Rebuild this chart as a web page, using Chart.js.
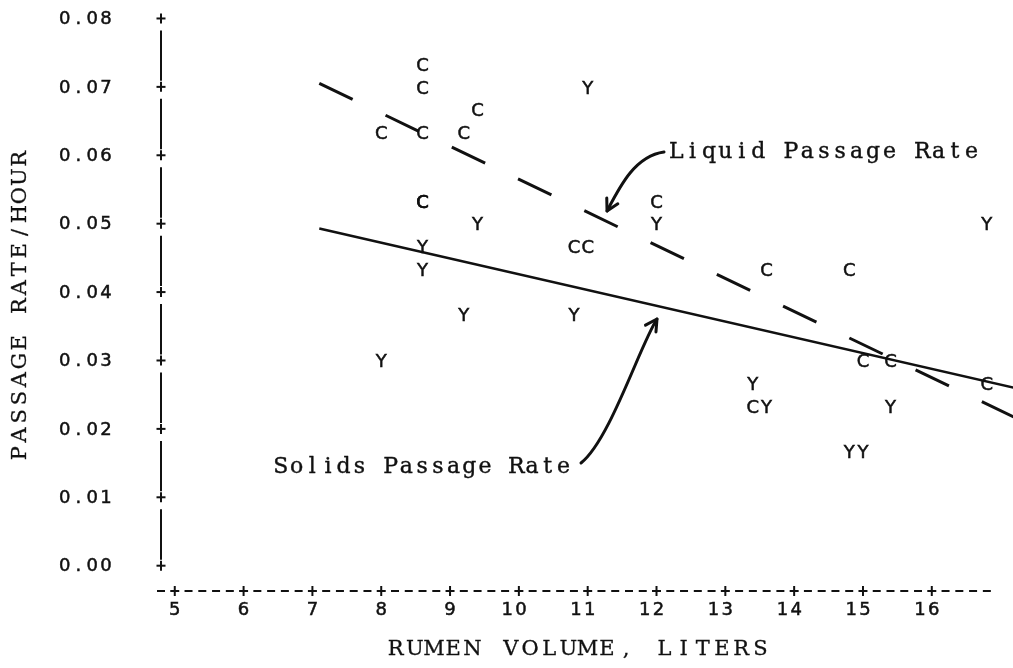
<!DOCTYPE html>
<html>
<head>
<meta charset="utf-8">
<script src="https://cdn.jsdelivr.net/npm/chart.js@4.4.1/dist/chart.umd.min.js"></script>
<style>
  html, body { margin: 0; padding: 0; background: #fff; }
  canvas { display: block; }
</style>
</head>
<body>
<canvas id="chart" width="1013" height="668"></canvas>
<script>
// Group C observations: rumen volume (liters) and passage rate (per hour)
const volumeC = [8.6, 8.6, 9.4, 8.0, 8.6, 9.2, 8.6, 8.6, 12.0, 10.8, 11.0, 13.6, 14.8, 15.0, 15.4, 16.8, 13.4];
const rateC   = [0.0733, 0.0700, 0.0667, 0.0633, 0.0633, 0.0633, 0.0533, 0.0533, 0.0533, 0.0467, 0.0467, 0.0433, 0.0433, 0.0300, 0.0300, 0.0267, 0.0233];

// Group Y observations
const volumeY = [11.0, 12.0, 9.4, 8.6, 8.6, 16.8, 9.2, 10.8, 8.0, 13.4, 13.6, 15.4, 14.8, 15.0];
const rateY   = [0.0700, 0.0500, 0.0500, 0.0467, 0.0433, 0.0500, 0.0367, 0.0367, 0.0300, 0.0267, 0.0233, 0.0233, 0.0167, 0.0167];

// Fitted regression lines (end points)
const liquidLineX = [7.1, 17.2];
const liquidLineY = [0.0705, 0.0217];
const solidsLineX = [7.1, 17.2];
const solidsLineY = [0.0493, 0.0260];

// Axis ticks
const xTickValues = [5, 6, 7, 8, 9, 10, 11, 12, 13, 14, 15, 16];
const xTickLabels = ['5', '6', '7', '8', '9', '10', '11', '12', '13', '14', '15', '16'];
const yTickValues = [0, 0.01, 0.02, 0.03, 0.04, 0.05, 0.06, 0.07, 0.08];
const yTickLabels = ['0.00', '0.01', '0.02', '0.03', '0.04', '0.05', '0.06', '0.07', '0.08'];

const xTitle = 'RUMEN VOLUME, LITERS';
const yTitle = 'PASSAGE RATE/HOUR';

// Callout labels with curved arrows, in data coordinates
const callouts = [
  { text: 'Liquid Passage Rate', x: 12.167, y: 0.0596, cell: 16.4,
    arrow: [[12.109, 0.06048], [11.688, 0.05989], [11.470, 0.05551], [11.281, 0.05185]] },
  { text: 'Solids Passage Rate', x: 6.427, y: 0.01355, cell: 15.7,
    arrow: [[10.903, 0.01501], [11.324, 0.01837], [11.760, 0.03226], [12.007, 0.03606]] }
];

const INK = '#111';
const PRINT_FONT = '18px "DejaVu Sans", "Liberation Sans", sans-serif';
const TITLE_FONT = '21px "DejaVu Serif", "Liberation Serif", serif';
const CALLOUT_FONT = '22px "DejaVu Serif", "Liberation Serif", serif';

function toPoints(xs, ys) { return xs.map((x, i) => ({ x: x, y: ys[i] })); }

// Filled glyph with a thin outline, for the heavier typed/printed look
function inkText(ctx, ch, x, y, weight) {
  ctx.fillText(ch, x, y);
  if (weight > 0) { ctx.lineWidth = weight; ctx.strokeText(ch, x, y); }
}

// Draw text with a fixed character cell, like a typewriter / line printer
function drawCells(ctx, text, firstCenterX, y, cell, weight) {
  ctx.textAlign = 'center';
  for (let i = 0; i < text.length; i++) {
    const ch = text[i];
    if (ch !== ' ') inkText(ctx, ch, firstCenterX + i * cell, y, weight || 0);
  }
}

function line(ctx, x1, y1, x2, y2) {
  ctx.beginPath(); ctx.moveTo(x1, y1); ctx.lineTo(x2, y2); ctx.stroke();
}

function plus(ctx, x, y) {
  line(ctx, x - 4.5, y, x + 4.5, y);
  line(ctx, x, y - 5, x, y + 5);
}

// Plots each observation as its group letter
const letterPlugin = {
  id: 'letterMarkers',
  afterDatasetsDraw(chart) {
    const ctx = chart.ctx;
    ctx.save();
    ctx.fillStyle = INK;
    ctx.strokeStyle = INK;
    ctx.font = PRINT_FONT;
    ctx.textAlign = 'center';
    ctx.textBaseline = 'middle';
    chart.data.datasets.forEach((ds, i) => {
      if (!ds.glyph) return;
      chart.getDatasetMeta(i).data.forEach(pt => {
        inkText(ctx, ds.glyph, pt.x, pt.y + 2, 0.5);
      });
    });
    ctx.restore();
  }
};

// Printer-style axes: '+' tick marks, dashed horizontal axis, ruled vertical axis
const printerAxes = {
  id: 'printerAxes',
  afterDraw(chart) {
    const ctx = chart.ctx;
    const xs = chart.scales.x, ys = chart.scales.y;
    const area = chart.chartArea;
    const cell = xs.getPixelForValue(5.2) - xs.getPixelForValue(5.0);
    const axisX = area.left;
    const axisY = area.bottom;
    ctx.save();
    ctx.strokeStyle = INK;
    ctx.fillStyle = INK;
    ctx.lineWidth = 2;
    ctx.lineCap = 'butt';

    // vertical axis
    const yPix = yTickValues.map(v => ys.getPixelForValue(v));
    yPix.forEach(p => plus(ctx, axisX, p));
    for (let i = 0; i < yPix.length - 1; i++) {
      const upper = Math.min(yPix[i], yPix[i + 1]);
      const lower = Math.max(yPix[i], yPix[i + 1]);
      line(ctx, axisX, upper + 12, axisX, lower - 6);
    }

    // horizontal axis: one character per 0.2 liter column
    for (let k = -1; k <= 59; k++) {
      const px = xs.getPixelForValue(5 + 0.2 * k);
      if (k % 5 === 0) plus(ctx, px, axisY);
      else line(ctx, px - 4, axisY, px + 4, axisY);
    }

    // tick labels
    ctx.font = PRINT_FONT;
    ctx.textBaseline = 'middle';
    yTickLabels.forEach((lab, i) => {
      const lastCenter = axisX - 4 * cell;
      drawCells(ctx, lab, lastCenter - (lab.length - 1) * cell, yPix[i] + 1, cell, 0.5);
    });
    xTickLabels.forEach((lab, i) => {
      const px = xs.getPixelForValue(xTickValues[i]);
      drawCells(ctx, lab, px - (lab.length - 1) * cell + (lab.length > 1 ? 2 : 0), axisY + 19, cell, 0.5);
    });

    // axis titles
    ctx.font = TITLE_FONT;
    ctx.textBaseline = 'middle';
    const xCell = 19.2;
    drawCells(ctx, xTitle, 578 - (xTitle.length - 1) * xCell / 2, 650, xCell, 0.3);
    ctx.translate(21, 306);
    ctx.rotate(-Math.PI / 2);
    const yCell = 18.4;
    drawCells(ctx, yTitle, -(yTitle.length - 1) * yCell / 2, 0, yCell, 0.3);
    ctx.restore();
  }
};

// Callout text and hand-drawn style arrows
const calloutPlugin = {
  id: 'callouts',
  afterDraw(chart) {
    const ctx = chart.ctx;
    const xs = chart.scales.x, ys = chart.scales.y;
    ctx.save();
    ctx.fillStyle = INK;
    ctx.strokeStyle = INK;
    ctx.font = CALLOUT_FONT;
    ctx.textBaseline = 'alphabetic';
    callouts.forEach(c => {
      const left = xs.getPixelForValue(c.x);
      drawCells(ctx, c.text, left + c.cell / 2, ys.getPixelForValue(c.y), c.cell, 0.4);
      const p = c.arrow.map(([vx, vy]) => [xs.getPixelForValue(vx), ys.getPixelForValue(vy)]);
      ctx.lineWidth = 3;
      ctx.lineCap = 'round';
      ctx.lineJoin = 'round';
      ctx.beginPath();
      ctx.moveTo(p[0][0], p[0][1]);
      ctx.bezierCurveTo(p[1][0], p[1][1], p[2][0], p[2][1], p[3][0], p[3][1]);
      ctx.stroke();
      // arrow head
      const ang = Math.atan2(p[3][1] - p[2][1], p[3][0] - p[2][0]);
      const len = 13, spread = 0.5;
      ctx.beginPath();
      ctx.moveTo(p[3][0] - len * Math.cos(ang - spread), p[3][1] - len * Math.sin(ang - spread));
      ctx.lineTo(p[3][0], p[3][1]);
      ctx.lineTo(p[3][0] - len * Math.cos(ang + spread), p[3][1] - len * Math.sin(ang + spread));
      ctx.stroke();
    });
    ctx.restore();
  }
};

new Chart(document.getElementById('chart'), {
  type: 'scatter',
  data: {
    datasets: [
      { label: 'C', glyph: 'C', data: toPoints(volumeC, rateC), pointRadius: 0, showLine: false },
      { label: 'Y', glyph: 'Y', data: toPoints(volumeY, rateY), pointRadius: 0, showLine: false },
      { label: 'Liquid passage rate', data: toPoints(liquidLineX, liquidLineY), showLine: true,
        borderColor: INK, borderWidth: 3, borderDash: [37, 36.5], borderCapStyle: 'butt', pointRadius: 0 },
      { label: 'Solids passage rate', data: toPoints(solidsLineX, solidsLineY), showLine: true,
        borderColor: INK, borderWidth: 2.5, pointRadius: 0 }
    ]
  },
  options: {
    responsive: false,
    animation: false,
    devicePixelRatio: 1,
    events: [],
    layout: { padding: 0, autoPadding: false },
    plugins: { legend: { display: false }, tooltip: { enabled: false } },
    scales: {
      x: {
        type: 'linear', min: 4.8, max: 17.18,
        grid: { display: false }, border: { display: false }, ticks: { display: false },
        afterFit(scale) { scale.height = 77; }
      },
      y: {
        type: 'linear', min: -0.0037, max: 0.0827,
        grid: { display: false }, border: { display: false }, ticks: { display: false },
        afterFit(scale) { scale.width = 161; }
      }
    }
  },
  plugins: [letterPlugin, printerAxes, calloutPlugin]
});
</script>
</body>
</html>
